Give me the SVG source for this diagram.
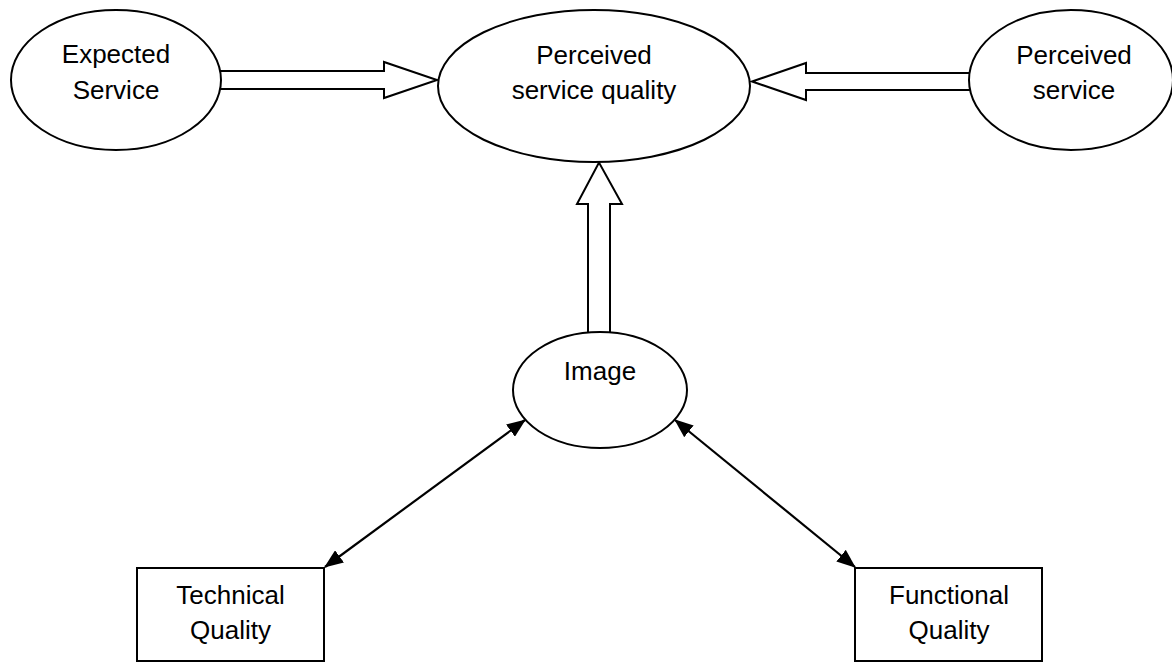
<svg xmlns="http://www.w3.org/2000/svg" width="1172" height="662" viewBox="0 0 1172 662">
<style>
.node{fill:#fff;stroke:#000;stroke-width:2}
.block{fill:#fff;stroke:#000;stroke-width:2;stroke-linejoin:miter}
.line{fill:none;stroke:#000;stroke-width:2.2}
text{font-family:"Liberation Sans",Arial,sans-serif;font-size:26px;fill:#000;text-anchor:middle}
</style>
<defs>
<marker id="ah" viewBox="0 0 19 15" refX="18" refY="7.5" markerWidth="19" markerHeight="15" markerUnits="userSpaceOnUse" orient="auto-start-reverse">
<path d="M0,0 L19,7.5 L0,15 z" fill="#000"/>
</marker>
</defs>
<rect width="1172" height="662" fill="#fff"/>
<g id="connectors">
<path class="block" d="M214,71 L384,71 L384,62 L437,80 L384,98 L384,89 L214,89 Z"/>
<path class="block" d="M975,73 L806,73 L806,63 L752,81.5 L806,100 L806,90 L975,90 Z"/>
<path class="block" d="M588,338 L588,204 L577,204 L599,162.5 L622,204 L610,204 L610,338 Z"/>
<line class="line" x1="325" y1="567" x2="525" y2="420" marker-start="url(#ah)" marker-end="url(#ah)"/>
<line class="line" x1="855" y1="567" x2="675" y2="420" marker-start="url(#ah)" marker-end="url(#ah)"/>
</g>
<g id="expected-service">
<ellipse class="node" cx="116" cy="80" rx="105" ry="70"/>
<text x="116" y="63">Expected</text>
<text x="116" y="99">Service</text>
</g>
<g id="perceived-service-quality">
<ellipse class="node" cx="594" cy="86" rx="156" ry="76"/>
<text x="594" y="64">Perceived</text>
<text x="594" y="99">service quality</text>
</g>
<g id="perceived-service">
<ellipse class="node" cx="1071" cy="80" rx="102" ry="70"/>
<text x="1074" y="64">Perceived</text>
<text x="1074" y="99">service</text>
</g>
<g id="image">
<ellipse class="node" cx="600" cy="390" rx="87" ry="58"/>
<text x="600" y="380">Image</text>
</g>
<g id="technical-quality">
<rect class="node" x="137" y="568" width="187" height="93"/>
<text x="230.5" y="604">Technical</text>
<text x="230.5" y="639">Quality</text>
</g>
<g id="functional-quality">
<rect class="node" x="855" y="568" width="187" height="93"/>
<text x="949" y="604">Functional</text>
<text x="949" y="639">Quality</text>
</g>
</svg>
